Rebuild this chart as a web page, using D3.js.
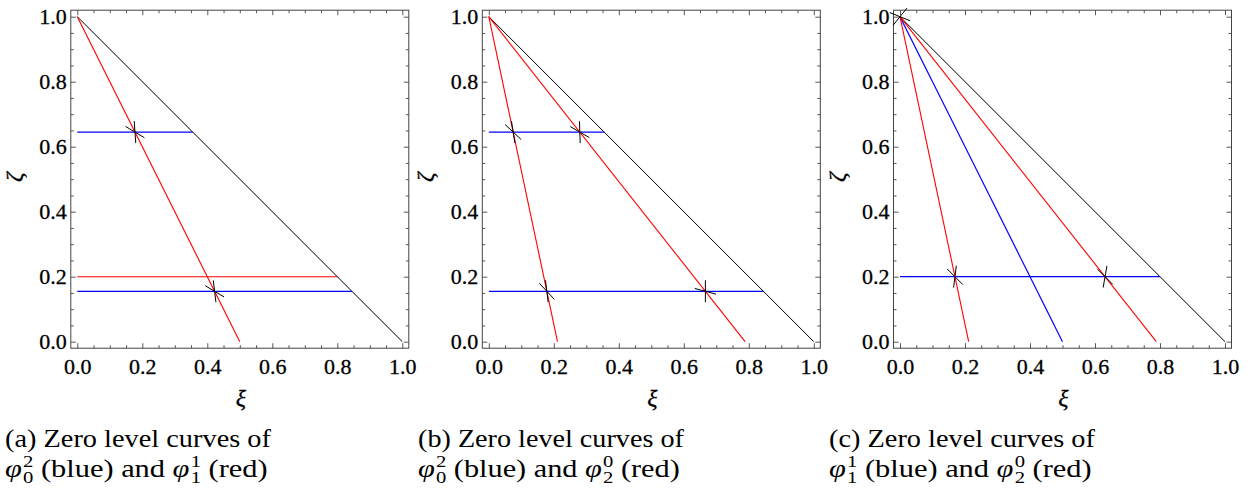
<!DOCTYPE html>
<html>
<head>
<meta charset="utf-8">
<script src="https://cdn.jsdelivr.net/npm/d3@7"></script>
<style>
  body { margin: 0; background: #fff; }
</style>
</head>
<body>
<svg id="fig"></svg>
<script>
// ---- data ----
const majorTicks = [0, 0.2, 0.4, 0.6, 0.8, 1.0];
const tickLabels = ["0.0", "0.2", "0.4", "0.6", "0.8", "1.0"];
const boundary = [[0, 1], [1, 0]];

// panel (a)
const redA = [[[0, 1], [0.5, 0]], [[0, 0.2], [0.8, 0.2]]];
const blueA = [[[0, 0.644949], [0.355051, 0.644949]], [[0, 0.155051], [0.844949, 0.155051]]];
const marksA = [[0.177526, 0.644949, 94, -31], [0.422474, 0.155051, 97, -31]];

// panel (b)
const redB = [[[0, 1], [0.211325, 0]], [[0, 1], [0.788675, 0]]];
const blueB = [[[0, 0.644949], [0.355051, 0.644949]], [[0, 0.155051], [0.844949, 0.155051]]];
const marksB = [[0.075031, 0.644949, 99, -43], [0.28002, 0.644949, 92, -30],
                [0.178559, 0.155051, 97, -47], [0.66639, 0.155051, 90, -15]];

// panel (c)
const redC = [[[0, 1], [0.211325, 0]], [[0, 1], [0.788675, 0]]];
const blueC = [[[0, 1], [0.5, 0]], [[0, 0.2], [0.8, 0.2]]];
const marksC = [[0, 1, 51, -22], [0.16906, 0.2, 83, -45], [0.63094, 0.2, 80, -45]];

const captionTop = ["(a) Zero level curves of", "(b) Zero level curves of", "(c) Zero level curves of"];
const captionBlue = [["0", "2"], ["0", "2"], ["1", "1"]];   // [sub, sup]
const captionRed = [["1", "1"], ["2", "0"], ["2", "0"]];

// ---- layout ----
const width = 1252;
const height = 489;
const plotSize = 338;
const plotTop = 10.2;
const panelLeft = [70.8, 482.3, 893.5];
const captionLeft = [5, 418, 829];
const serif = "Liberation Serif";

const svg = d3.select("#fig").attr("width", width).attr("height", height);
svg.append("rect").attr("width", width).attr("height", height).attr("fill", "#fff");

const x = d3.scaleLinear().domain([-0.02, 1.02]).range([0, plotSize]);
const y = d3.scaleLinear().domain([-0.02, 1.02]).range([plotSize, 0]);
const minorTicks = x.ticks(20).filter((t) => !majorTicks.some((m) => Math.abs(m - t) < 1e-9));
const fmt = (d) => tickLabels[majorTicks.findIndex((m) => Math.abs(m - d) < 1e-9)];

const line = d3.line().x((d) => x(d[0])).y((d) => y(d[1]));

const panels = [
  { red: redA, blue: blueA, marks: marksA },
  { red: redB, blue: blueB, marks: marksB },
  { red: redC, blue: blueC, marks: marksC },
];

const frameColor = "#444";

function styleAxis(g) {
  g.select(".domain").remove();
  g.selectAll("line").attr("stroke", frameColor).attr("stroke-width", 0.9);
  g.selectAll("text")
    .attr("font-family", serif)
    .attr("font-size", 22)
    .attr("fill", "#000")
    .attr("stroke", "#000")
    .attr("stroke-width", 0.3);
}

panels.forEach((p, i) => {
  const g = svg.append("g").attr("transform", `translate(${panelLeft[i]},${plotTop})`);

  // ticks on all four sides, pointing inward
  g.append("g").attr("transform", `translate(0,${plotSize})`)
    .call(d3.axisBottom(x).tickValues(majorTicks).tickFormat(fmt).tickSizeInner(-5).tickSizeOuter(0).tickPadding(10))
    .call(styleAxis);
  g.append("g").attr("transform", `translate(0,${plotSize})`)
    .call(d3.axisBottom(x).tickValues(minorTicks).tickFormat("").tickSizeInner(-3).tickSizeOuter(0))
    .call(styleAxis);
  g.append("g")
    .call(d3.axisLeft(y).tickValues(majorTicks).tickFormat(fmt).tickSizeInner(-5).tickSizeOuter(0).tickPadding(4))
    .call(styleAxis);
  g.append("g")
    .call(d3.axisLeft(y).tickValues(minorTicks).tickFormat("").tickSizeInner(-3).tickSizeOuter(0))
    .call(styleAxis);
  g.append("g")
    .call(d3.axisTop(x).tickValues(majorTicks).tickFormat("").tickSizeInner(-5).tickSizeOuter(0))
    .call(styleAxis);
  g.append("g")
    .call(d3.axisTop(x).tickValues(minorTicks).tickFormat("").tickSizeInner(-3).tickSizeOuter(0))
    .call(styleAxis);
  g.append("g").attr("transform", `translate(${plotSize},0)`)
    .call(d3.axisRight(y).tickValues(majorTicks).tickFormat("").tickSizeInner(-5).tickSizeOuter(0))
    .call(styleAxis);
  g.append("g").attr("transform", `translate(${plotSize},0)`)
    .call(d3.axisRight(y).tickValues(minorTicks).tickFormat("").tickSizeInner(-3).tickSizeOuter(0))
    .call(styleAxis);

  g.append("rect")
    .attr("width", plotSize).attr("height", plotSize)
    .attr("fill", "none").attr("stroke", frameColor).attr("stroke-width", 1);

  g.append("path").attr("d", line(boundary)).attr("fill", "none").attr("stroke", "#000").attr("stroke-width", 1);

  g.selectAll(".blue").data(p.blue).enter().append("path")
    .attr("d", line).attr("fill", "none").attr("stroke", "#0000ff").attr("stroke-width", 1.2);

  g.selectAll(".red").data(p.red).enter().append("path")
    .attr("d", line).attr("fill", "none").attr("stroke", "#ff0000").attr("stroke-width", 1.1);

  // cross markers
  const half = 11;
  p.marks.forEach((m) => {
    const px = x(m[0]);
    const py = y(m[1]);
    [m[2], m[3]].forEach((a) => {
      const r = (a * Math.PI) / 180;
      const dx = Math.cos(r) * half;
      const dy = -Math.sin(r) * half;
      g.append("line")
        .attr("x1", px - dx).attr("y1", py - dy)
        .attr("x2", px + dx).attr("y2", py + dy)
        .attr("stroke", "#000").attr("stroke-width", 1);
    });
  });

  // axis labels
  g.append("text")
    .attr("x", plotSize / 2 + 1).attr("y", 396)
    .attr("text-anchor", "middle")
    .attr("font-family", serif).attr("font-size", 24).attr("font-style", "italic")
    .attr("stroke", "#000").attr("stroke-width", 0.3)
    .text("ξ");
  g.append("text")
    .attr("transform", `translate(${-49},${plotSize / 2 - 2}) rotate(-90)`)
    .attr("text-anchor", "middle")
    .attr("font-family", serif).attr("font-size", 24).attr("font-style", "italic")
    .attr("stroke", "#000").attr("stroke-width", 0.3)
    .text("ζ");

  // caption, two lines
  const t1 = svg.append("text").attr("y", 447)
    .attr("font-family", serif).attr("font-size", 25)
    .text(captionTop[i]);
  const t2 = svg.append("text").attr("y", 477)
    .attr("font-family", serif).attr("font-size", 25);
  const addPhi = (sub, sup) => {
    t2.append("tspan").attr("font-style", "italic").text("φ");
    t2.append("tspan").attr("font-size", 17).attr("dx", 1).attr("dy", -10).text(sup);
    t2.append("tspan").attr("font-size", 17).attr("dx", -8.5).attr("dy", 16).text(sub);
  };
  addPhi(captionBlue[i][0], captionBlue[i][1]);
  t2.append("tspan").attr("dy", -6).text(" (blue) and ");
  addPhi(captionRed[i][0], captionRed[i][1]);
  t2.append("tspan").attr("dy", -6).text(" (red)");

  const w1 = t1.node().getComputedTextLength();
  const w2 = t2.node().getBBox().width;
  t1.attr("transform", `translate(${captionLeft[i]},0) scale(${266 / w1},1)`);
  t2.attr("transform", `translate(${captionLeft[i]},0) scale(${262 / w2},1)`);
});
</script>
</body>
</html>
